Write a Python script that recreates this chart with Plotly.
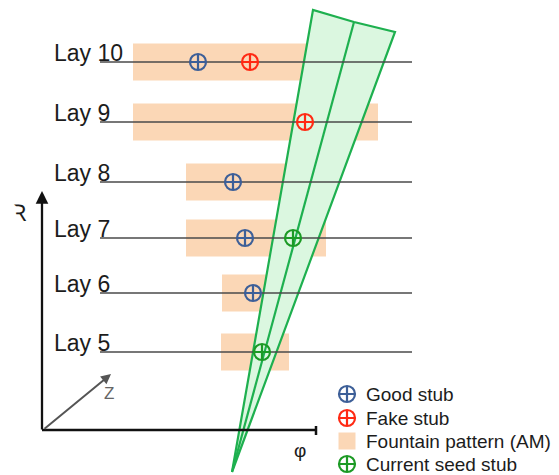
import plotly.graph_objects as go

# ---- data (diagram coordinates: phi to the right, R downward in pixels) ----
layers = ["Lay 10", "Lay 9", "Lay 8", "Lay 7", "Lay 6", "Lay 5"]
layer_r = [62, 122, 182, 238, 293, 352]
layer_phi_start = 100
layer_phi_end = 412
pattern_lo = [133, 133, 186, 186, 222, 221]
pattern_hi = [330, 378, 300, 326, 275, 289]
pattern_half = 18.5

good_phi = [198, 233, 245, 253]
good_r = [62, 182, 238, 293]
fake_phi = [250, 305]
fake_r = [62, 122]
seed_phi = [293, 262]
seed_r = [238, 352]

road_phi = [232, 313, 354, 395, 232]
road_r = [472, 10, 22, 32, 472]
road_mid_phi = [232, 354]
road_mid_r = [472, 22]

legend_labels = ["Good stub", "Fake stub", "Fountain pattern (AM)", "Current seed stub"]
legend_r = [394, 418, 441, 464]

BLUE = "#3d5f98"
RED = "#ff2a14"
GREEN_STUB = "#1c9a25"
PEACH = "#fbd7b6"
ROAD_FILL = "#dbf7e0"
ROAD_LINE = "#1eb04f"
FONT = "Liberation Sans, Arial, sans-serif"
TXT = "#1c1c1c"

fig = go.Figure()
shapes = []
annotations = []

# fountain patterns
for r, lo, hi in zip(layer_r, pattern_lo, pattern_hi):
    shapes.append(dict(type="rect", xref="x", yref="y", x0=lo, x1=hi,
                       y0=r - pattern_half, y1=r + pattern_half,
                       fillcolor=PEACH, line=dict(width=0), layer="below"))

# road wedge
fig.add_trace(go.Scatter(x=road_phi, y=road_r, mode="lines", fill="toself",
                         fillcolor=ROAD_FILL, line=dict(color=ROAD_LINE, width=2.2),
                         hoverinfo="skip", showlegend=False))
fig.add_trace(go.Scatter(x=road_mid_phi, y=road_mid_r, mode="lines",
                         line=dict(color=ROAD_LINE, width=2.2),
                         hoverinfo="skip", showlegend=False))

# layer lines
for r in layer_r:
    fig.add_trace(go.Scatter(x=[layer_phi_start, layer_phi_end], y=[r, r], mode="lines",
                             line=dict(color="#4a4a4a", width=1.5),
                             hoverinfo="skip", showlegend=False))

# layer labels
for name, r in zip(layers, layer_r):
    annotations.append(dict(x=52, y=r - 9, xref="x", yref="y", text=name, showarrow=False,
                            xanchor="left", yanchor="middle",
                            font=dict(size=23, color=TXT, family=FONT)))

def stubs(xs, ys, color):
    fig.add_trace(go.Scatter(x=xs, y=ys, mode="markers",
                             marker=dict(symbol="circle-cross-open", size=16, color=color,
                                         line=dict(color=color, width=2.2)),
                             hoverinfo="skip", showlegend=False))

stubs(good_phi, good_r, BLUE)
stubs(fake_phi, fake_r, RED)
stubs(seed_phi, seed_r, GREEN_STUB)

# axes of the sketch
shapes.append(dict(type="line", xref="x", yref="y", x0=42, x1=316, y0=430, y1=430,
                   line=dict(color="#111", width=2.5)))
shapes.append(dict(type="line", xref="x", yref="y", x0=316, x1=316, y0=426, y1=435,
                   line=dict(color="#111", width=2.5)))
annotations.append(dict(x=42, y=191, ax=42, ay=431, xref="x", yref="y", axref="x", ayref="y",
                        text="", showarrow=True, arrowhead=2, arrowsize=1.1, arrowwidth=2.3,
                        arrowcolor="#111"))
annotations.append(dict(x=111, y=374, ax=43, ay=430, xref="x", yref="y", axref="x", ayref="y",
                        text="", showarrow=True, arrowhead=2, arrowsize=1.0, arrowwidth=2,
                        arrowcolor="#555"))
annotations.append(dict(x=109, y=393, xref="x", yref="y", text="Z", showarrow=False,
                        font=dict(size=17, color="#666", family=FONT)))
annotations.append(dict(x=300, y=450, xref="x", yref="y", text="φ", showarrow=False,
                        font=dict(size=19, color=TXT, family=FONT)))
annotations.append(dict(x=20, y=213, xref="x", yref="y", text="Ꝛ", showarrow=False,
                        font=dict(size=23, color=TXT, family="DejaVu Sans, " + FONT)))

# legend (manual)
leg_x = 347
fig.add_trace(go.Scatter(x=[leg_x], y=[legend_r[0]], mode="markers",
                         marker=dict(symbol="circle-cross-open", size=16, color=BLUE,
                                     line=dict(color=BLUE, width=2.2)),
                         hoverinfo="skip", showlegend=False))
fig.add_trace(go.Scatter(x=[leg_x], y=[legend_r[1]], mode="markers",
                         marker=dict(symbol="circle-cross-open", size=16, color=RED,
                                     line=dict(color=RED, width=2.2)),
                         hoverinfo="skip", showlegend=False))
fig.add_trace(go.Scatter(x=[leg_x], y=[legend_r[2]], mode="markers",
                         marker=dict(symbol="square", size=17, color=PEACH,
                                     line=dict(width=0)),
                         hoverinfo="skip", showlegend=False))
fig.add_trace(go.Scatter(x=[leg_x], y=[legend_r[3]], mode="markers",
                         marker=dict(symbol="circle-cross-open", size=16, color=GREEN_STUB,
                                     line=dict(color=GREEN_STUB, width=2.2)),
                         hoverinfo="skip", showlegend=False))
for lab, r in zip(legend_labels, legend_r):
    annotations.append(dict(x=364, y=r, xref="x", yref="y", text=lab, showarrow=False,
                            xanchor="left", yanchor="middle",
                            font=dict(size=19, color=TXT, family=FONT)))

fig.update_layout(
    width=559, height=475, margin=dict(l=0, r=0, t=0, b=0),
    paper_bgcolor="white", plot_bgcolor="white",
    xaxis=dict(range=[0, 559], visible=False, fixedrange=True),
    yaxis=dict(range=[475, 0], visible=False, fixedrange=True),
    shapes=shapes, annotations=annotations, showlegend=False,
)
fig.write_html("out.html", config={"displayModeBar": False},
               post_script="document.body.style.margin='0';document.body.style.overflow='hidden';")
